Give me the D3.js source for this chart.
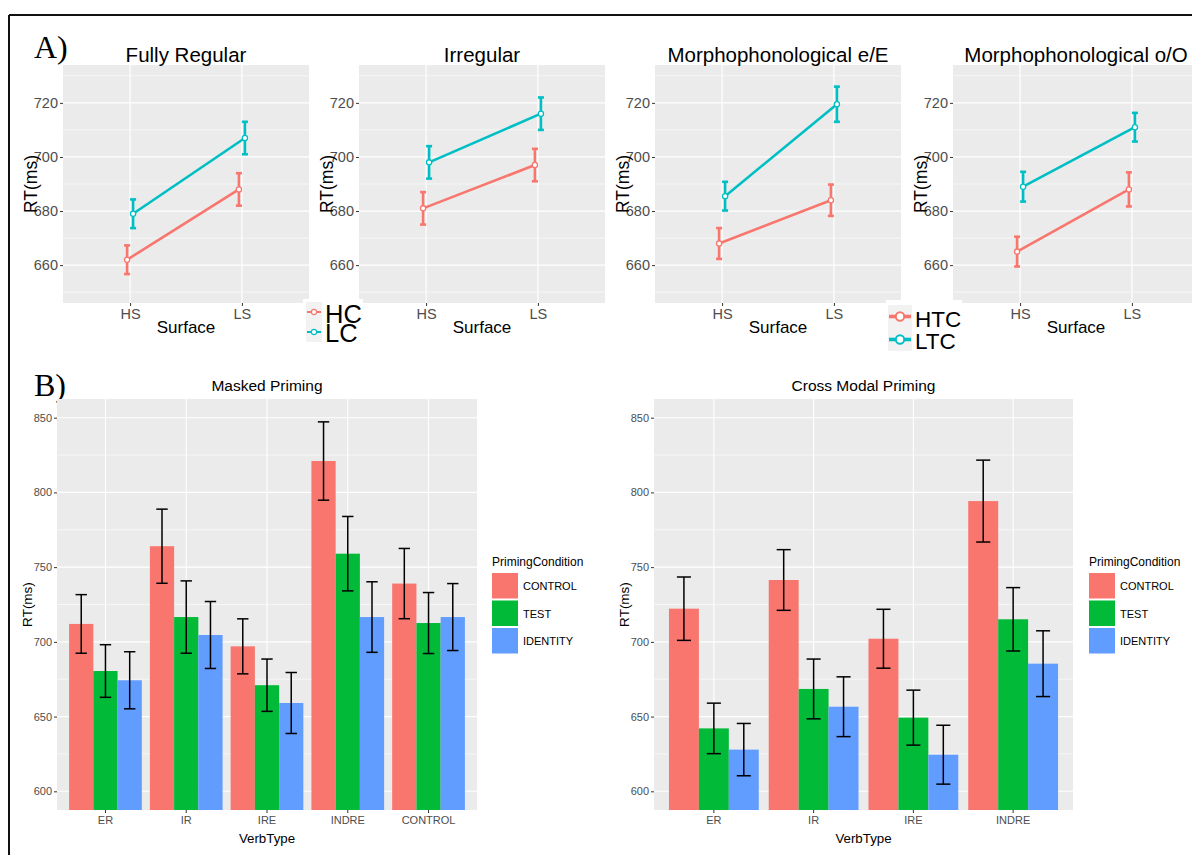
<!DOCTYPE html>
<html><head><meta charset="utf-8">
<script src="https://cdn.jsdelivr.net/npm/d3@7"></script>
<style>
body{margin:0;background:#fff;}
svg text{font-family:"Liberation Sans",Arial,sans-serif;}
</style>
</head><body>
<svg id="chart" width="1192" height="855"></svg>
<script>
// ---------- DATA ----------
// Panel A
const surfaceLevels = ["HS", "LS"];
const panelATitles = ["Fully Regular", "Irregular", "Morphophonological e/E", "Morphophonological o/O"];
const aYTicks = [660, 680, 700, 720];
const aYMinor = [650, 670, 690, 710, 730];
const legendA1Labels = ["HC", "LC"];
const legendA2Labels = ["HTC", "LTC"];
// means at [HS, LS] and error half-widths
const frFirst = [662, 688],   frFirstErr = [5.3, 6.0];
const frSecond = [679, 707],  frSecondErr = [5.3, 6.0];
const irFirst = [681, 697],   irFirstErr = [6.0, 6.0];
const irSecond = [698, 716],  irSecondErr = [6.0, 6.0];
const eeFirst = [668, 684],   eeFirstErr = [5.7, 5.8];
const eeSecond = [685.5, 719.5], eeSecondErr = [5.3, 6.5];
const ooFirst = [665, 688],   ooFirstErr = [5.5, 6.3];
const ooSecond = [689, 711],  ooSecondErr = [5.5, 5.3];

// Panel B
const primingConditions = ["CONTROL", "TEST", "IDENTITY"];
const bYTicks = [600, 650, 700, 750, 800, 850];
const bYMinor = [625, 675, 725, 775, 825];
const verbTypesMasked = ["ER", "IR", "IRE", "INDRE", "CONTROL"];
const maskedControl = [712, 764, 697, 821, 739];
const maskedControlErr = [19.6, 24.8, 18.4, 26.2, 23.5];
const maskedTest = [680.5, 716.6, 671, 759, 712.6];
const maskedTestErr = [17.6, 24.2, 17.5, 24.9, 20.4];
const maskedIdentity = [674.3, 704.6, 659.1, 716.6, 716.6];
const maskedIdentityErr = [19.1, 22.4, 20.4, 23.6, 22.4];
const verbTypesCross = ["ER", "IR", "IRE", "INDRE"];
const crossControl = [722.2, 741.4, 702.1, 794.2];
const crossControlErr = [21.2, 20.3, 19.7, 27.4];
const crossTest = [642.1, 668.5, 649.3, 715.1];
const crossTestErr = [16.9, 20, 18.4, 21.2];
const crossIdentity = [627.9, 656.6, 624.5, 685.4];
const crossIdentityErr = [17.5, 20, 19.7, 22];

// ---------- STYLE ----------
const twoColors = ["#F8766D", "#00BFC4"];
const threeColors = ["#F8766D", "#00BA38", "#619CFF"];
const panelBg = "#EBEBEB";
const tickText = "#4D4D4D";

const svg = d3.select("#chart");

// outer frame
svg.append("line").attr("x1", 9).attr("x2", 1192).attr("y1", 15).attr("y2", 15).attr("stroke", "#111").attr("stroke-width", 2);
svg.append("line").attr("x1", 9).attr("x2", 9).attr("y1", 15).attr("y2", 855).attr("stroke", "#111").attr("stroke-width", 2);

svg.append("text").attr("x", 34).attr("y", 58).text("A)")
  .style("font-family", "'Liberation Serif','Times New Roman',serif").style("font-size", "32px");
svg.append("text").attr("x", 34).attr("y", 396).text("B)")
  .style("font-family", "'Liberation Serif','Times New Roman',serif").style("font-size", "32px");

let clipId = 0;

// ---------- PANEL A ----------
function drawLinePanel(left, title, first, firstErr, second, secondErr) {
  const W = 246, top = 65, bottom = 303;
  const g = svg.append("g");
  const x = d3.scalePoint().domain(surfaceLevels).range([left, left + W]).padding(0.6);
  const y = d3.scaleLinear().domain([646, 734]).range([bottom, top]);

  g.append("rect").attr("x", left).attr("y", top).attr("width", W).attr("height", bottom - top).attr("fill", panelBg);
  g.selectAll(".mn").data(aYMinor).enter().append("line")
    .attr("x1", left).attr("x2", left + W).attr("y1", d => y(d)).attr("y2", d => y(d))
    .attr("stroke", "#fff").attr("stroke-width", 0.6);
  g.selectAll(".mj").data(aYTicks).enter().append("line")
    .attr("x1", left).attr("x2", left + W).attr("y1", d => y(d)).attr("y2", d => y(d))
    .attr("stroke", "#fff").attr("stroke-width", 1.2);
  g.selectAll(".vx").data(surfaceLevels).enter().append("line")
    .attr("x1", d => x(d)).attr("x2", d => x(d)).attr("y1", top).attr("y2", bottom)
    .attr("stroke", "#fff").attr("stroke-width", 1.2);

  const yAx = g.append("g").attr("transform", `translate(${left},0)`)
    .call(d3.axisLeft(y).tickValues(aYTicks).tickSize(3).tickPadding(2));
  yAx.select(".domain").remove();
  yAx.selectAll("line").attr("stroke", "#333");
  yAx.selectAll("text").attr("fill", tickText).style("font-size", "14.5px").style("font-family", "'Liberation Sans',Arial,sans-serif");

  const xAx = g.append("g").attr("transform", `translate(0,${bottom})`)
    .call(d3.axisBottom(x).tickSize(3).tickPadding(3));
  xAx.select(".domain").remove();
  xAx.selectAll("line").attr("stroke", "#333");
  xAx.selectAll("text").attr("fill", tickText).style("font-size", "14.5px").style("font-family", "'Liberation Sans',Arial,sans-serif");

  g.append("text").attr("x", left + W / 2).attr("y", 62).attr("text-anchor", "middle")
    .style("font-size", "20.5px").text(title);
  g.append("text").attr("x", left + W / 2).attr("y", 333).attr("text-anchor", "middle")
    .style("font-size", "17px").text("Surface");
  g.append("text").attr("transform", `translate(${left - 26},${(top + bottom) / 2}) rotate(-90)`)
    .attr("text-anchor", "middle").style("font-size", "17.5px").text("RT(ms)");

  const series = [
    { vals: first, errs: firstErr, color: twoColors[0], dx: -3 },
    { vals: second, errs: secondErr, color: twoColors[1], dx: 3 }
  ];
  series.forEach(s => {
    const pts = surfaceLevels.map((lv, i) => ({ lv, v: s.vals[i], e: s.errs[i] }));
    const line = d3.line().x(d => x(d.lv) + s.dx).y(d => y(d.v));
    g.append("path").datum(pts).attr("d", line).attr("fill", "none")
      .attr("stroke", s.color).attr("stroke-width", 2.6);
    pts.forEach(p => {
      const cx = x(p.lv) + s.dx;
      g.append("line").attr("x1", cx).attr("x2", cx).attr("y1", y(p.v - p.e)).attr("y2", y(p.v + p.e))
        .attr("stroke", s.color).attr("stroke-width", 2.6);
      [p.v - p.e, p.v + p.e].forEach(c => {
        g.append("line").attr("x1", cx - 3).attr("x2", cx + 3).attr("y1", y(c)).attr("y2", y(c))
          .attr("stroke", s.color).attr("stroke-width", 2.6);
      });
      g.append("circle").attr("cx", cx).attr("cy", y(p.v)).attr("r", 2.6)
        .attr("fill", "#fff").attr("stroke", s.color).attr("stroke-width", 1.3);
    });
  });
}

const aLefts = [63, 359, 655, 953];
drawLinePanel(aLefts[0], panelATitles[0], frFirst, frFirstErr, frSecond, frSecondErr);
drawLinePanel(aLefts[1], panelATitles[1], irFirst, irFirstErr, irSecond, irSecondErr);
drawLinePanel(aLefts[2], panelATitles[2], eeFirst, eeFirstErr, eeSecond, eeSecondErr);
drawLinePanel(aLefts[3], panelATitles[3], ooFirst, ooFirstErr, ooSecond, ooSecondErr);

function drawLineLegend(bx, by, bw, bh, keyX, keyW, keyTops, keyH, labels, fontSize, baselines, lw, r) {
  const g = svg.append("g");
  g.append("rect").attr("x", bx).attr("y", by).attr("width", bw).attr("height", bh).attr("fill", "#fff");
  labels.forEach((lab, i) => {
    const t = keyTops[i];
    g.append("rect").attr("x", keyX).attr("y", t).attr("width", keyW).attr("height", keyH).attr("fill", "#F2F2F2");
    const cy = t + keyH / 2;
    g.append("line").attr("x1", keyX + 1).attr("x2", keyX + keyW - 1).attr("y1", cy).attr("y2", cy)
      .attr("stroke", twoColors[i]).attr("stroke-width", lw);
    g.append("circle").attr("cx", keyX + keyW / 2).attr("cy", cy).attr("r", r)
      .attr("fill", "#fff").attr("stroke", twoColors[i]).attr("stroke-width", lw * 0.55);
    g.append("text").attr("x", keyX + keyW + 3).attr("y", baselines[i]).style("font-size", fontSize + "px").text(lab);
  });
}
drawLineLegend(303, 299, 60, 47, 306, 16, [302, 322], 20, legendA1Labels, 25.5, [323, 342], 2, 2.6);
drawLineLegend(886, 300, 76, 54, 888, 24, [305, 328], 23, legendA2Labels, 22.5, [327, 349], 3.6, 4.2);

// ---------- PANEL B ----------
function drawBarPanel(left, W, cats, title, ctrl, ctrlE, test, testE, iden, idenE, legX) {
  const top = 399, bottom = 810;
  const g = svg.append("g");
  const id = "clip" + (clipId++);
  g.append("clipPath").attr("id", id).append("rect").attr("x", left).attr("y", top).attr("width", W).attr("height", bottom - top);

  const x0 = d3.scaleBand().domain(cats).range([left, left + W]).paddingInner(0.1).paddingOuter(0.15);
  const x1 = d3.scaleBand().domain(primingConditions).range([0, x0.bandwidth()]);
  const y = d3.scaleLinear().domain([587.5, 862.5]).range([bottom, top]);
  const color = d3.scaleOrdinal().domain(primingConditions).range(threeColors);

  g.append("rect").attr("x", left).attr("y", top).attr("width", W).attr("height", bottom - top).attr("fill", panelBg);
  g.selectAll(".mn").data(bYMinor).enter().append("line")
    .attr("x1", left).attr("x2", left + W).attr("y1", d => y(d)).attr("y2", d => y(d))
    .attr("stroke", "#fff").attr("stroke-width", 0.6);
  g.selectAll(".mj").data(bYTicks).enter().append("line")
    .attr("x1", left).attr("x2", left + W).attr("y1", d => y(d)).attr("y2", d => y(d))
    .attr("stroke", "#fff").attr("stroke-width", 1.1);
  g.selectAll(".vx").data(cats).enter().append("line")
    .attr("x1", d => x0(d) + x0.bandwidth() / 2).attr("x2", d => x0(d) + x0.bandwidth() / 2)
    .attr("y1", top).attr("y2", bottom).attr("stroke", "#fff").attr("stroke-width", 1.1);

  const rows = [];
  cats.forEach((c, i) => {
    rows.push({ c, p: "CONTROL", v: ctrl[i], e: ctrlE[i] });
    rows.push({ c, p: "TEST", v: test[i], e: testE[i] });
    rows.push({ c, p: "IDENTITY", v: iden[i], e: idenE[i] });
  });
  const bars = g.append("g").attr("clip-path", `url(#${id})`);
  bars.selectAll("rect").data(rows).enter().append("rect")
    .attr("x", d => x0(d.c) + x1(d.p)).attr("width", x1.bandwidth())
    .attr("y", d => y(d.v)).attr("height", d => bottom - y(d.v) + 2)
    .attr("fill", d => color(d.p));
  const capW = x1.bandwidth() * 0.47;
  rows.forEach(d => {
    const cx = x0(d.c) + x1(d.p) + x1.bandwidth() / 2;
    bars.append("line").attr("x1", cx).attr("x2", cx).attr("y1", y(d.v - d.e)).attr("y2", y(d.v + d.e))
      .attr("stroke", "#000").attr("stroke-width", 1.5);
    [d.v - d.e, d.v + d.e].forEach(c => {
      bars.append("line").attr("x1", cx - capW / 2).attr("x2", cx + capW / 2).attr("y1", y(c)).attr("y2", y(c))
        .attr("stroke", "#000").attr("stroke-width", 1.5);
    });
  });

  const yAx = g.append("g").attr("transform", `translate(${left},0)`)
    .call(d3.axisLeft(y).tickValues(bYTicks).tickSize(3).tickPadding(2));
  yAx.select(".domain").remove();
  yAx.selectAll("line").attr("stroke", "#333");
  yAx.selectAll("text").attr("fill", tickText).style("font-size", "11px").style("font-family", "'Liberation Sans',Arial,sans-serif");

  const xAx = g.append("g").attr("transform", `translate(0,${bottom})`)
    .call(d3.axisBottom(x0).tickSize(3).tickPadding(3));
  xAx.select(".domain").remove();
  xAx.selectAll("line").attr("stroke", "#333");
  xAx.selectAll("text").attr("fill", tickText).style("font-size", "11px").style("font-family", "'Liberation Sans',Arial,sans-serif");

  g.append("text").attr("x", left + W / 2).attr("y", 391).attr("text-anchor", "middle")
    .style("font-size", "15.5px").text(title);
  g.append("text").attr("x", left + W / 2).attr("y", 843).attr("text-anchor", "middle")
    .style("font-size", "13.3px").text("VerbType");
  g.append("text").attr("transform", `translate(${left - 25},${(top + bottom) / 2}) rotate(-90)`)
    .attr("text-anchor", "middle").style("font-size", "13.5px").text("RT(ms)");

  // legend
  const lg = svg.append("g");
  lg.append("text").attr("x", legX).attr("y", 566).style("font-size", "12px").text("PrimingCondition");
  primingConditions.forEach((p, i) => {
    const ky = 573 + i * 27.5;
    lg.append("rect").attr("x", legX).attr("y", ky).attr("width", 26).attr("height", 25.5)
      .attr("fill", color(p));
    lg.append("text").attr("x", legX + 31).attr("y", ky + 17).style("font-size", "11px").text(p);
  });
}

drawBarPanel(57, 420, verbTypesMasked, "Masked Priming",
  maskedControl, maskedControlErr, maskedTest, maskedTestErr, maskedIdentity, maskedIdentityErr, 492);
drawBarPanel(654, 419, verbTypesCross, "Cross Modal Priming",
  crossControl, crossControlErr, crossTest, crossTestErr, crossIdentity, crossIdentityErr, 1089);
</script>
</body></html>
